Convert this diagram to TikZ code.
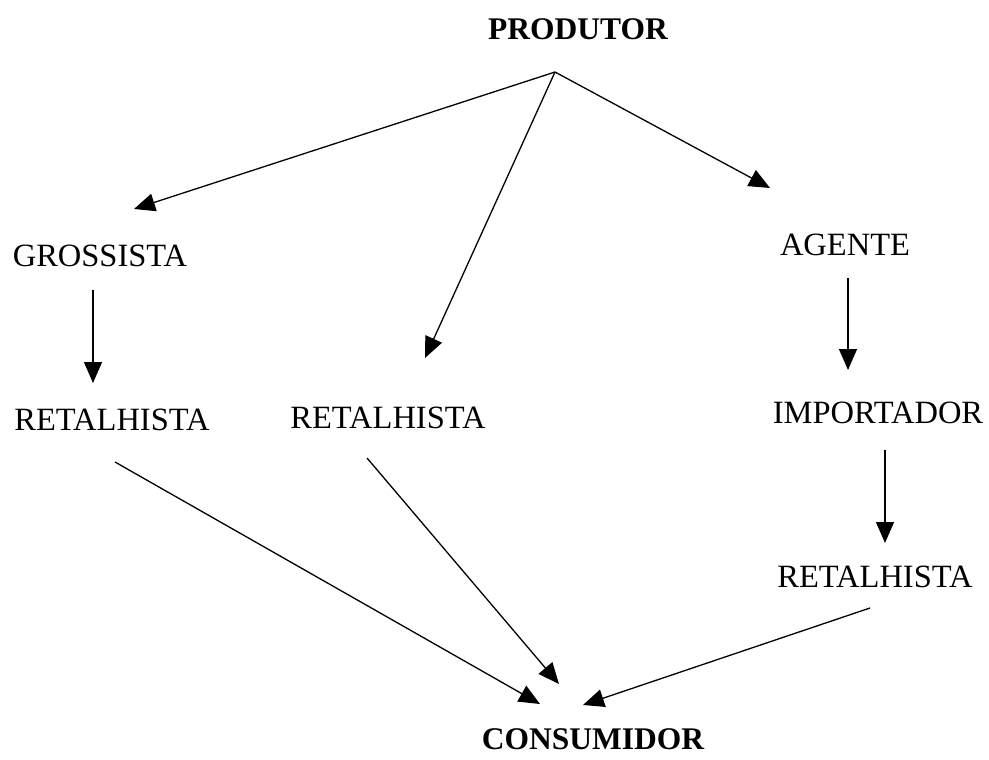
\documentclass[tikz,border=0pt]{standalone}
\usepackage{fontspec}
\setmainfont{Liberation Serif}
\usetikzlibrary{arrows.meta,calc}
\begin{document}
\begin{tikzpicture}[x=1pt,y=-1pt,
  lbl/.style={inner sep=0pt,font=\fontsize{32.5}{38}\selectfont},
  hub/.style={inner sep=0pt,font=\fontsize{31.5}{37}\selectfont\bfseries},
  arr/.style={line width=1.3pt,-{Triangle[length=21pt,width=18pt]}}]
\useasboundingbox[fill=white] (0,0) rectangle (989,760);
% channel members
\node[hub] (prod) at (578,29) {PRODUTOR};
\node[lbl] (gros) at (100,256) {GROSSISTA};
\node[lbl] (retA) at (112,420) {RETALHISTA};
\node[lbl] (retB) at (388,418) {RETALHISTA};
\node[lbl] (agen) at (845,245) {AGENTE};
\node[lbl] (impo) at (878,413) {IMPORTADOR};
\node[lbl] (retC) at (875,577) {RETALHISTA};
\node[hub] (cons) at (593,739) {CONSUMIDOR};
% common start point under the producer
\coordinate (split) at ($(prod)+(-23,43)$);
% producer to first level
\draw[arr] (split) -- ($(gros)+(34,-47)$);
\draw[arr] (split) -- ($(retB)+(37,-60)$);
\draw[arr] (split) -- ($(agen)+(-75,-57)$);
% vertical chains
\draw[arr] ($(gros)+(-7,34)$) -- ($(retA)+(-19,-37)$);
\draw[arr] ($(agen)+(3,33)$) -- ($(impo)+(-30,-43)$);
\draw[arr] ($(impo)+(7,37)$) -- ($(retC)+(10,-34)$);
% retailers to consumer
\draw[arr] ($(retA)+(3,42)$) -- ($(cons)+(-53,-35)$);
\draw[arr] ($(retB)+(-21,40)$) -- ($(cons)+(-34,-55)$);
\draw[arr] ($(retC)+(-5,31)$) -- ($(cons)+(-10,-34)$);
\end{tikzpicture}
\end{document}
